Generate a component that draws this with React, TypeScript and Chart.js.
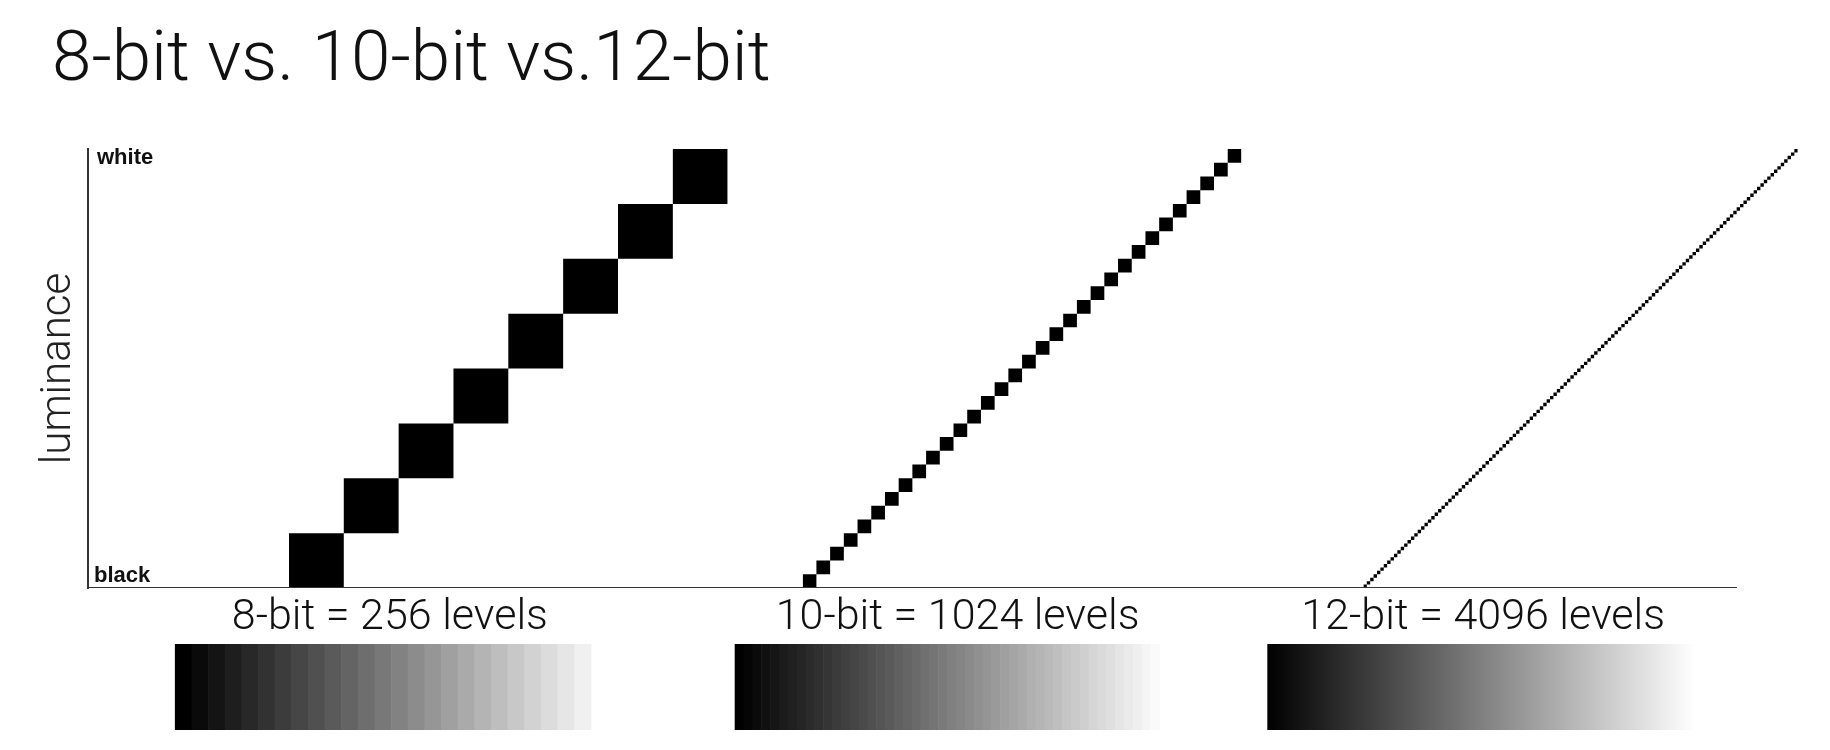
import React, { useEffect, useRef } from 'react';
import { Chart, registerables } from 'chart.js';

Chart.register(...registerables);

// ---- data ----
const titleText = '8-bit vs. 10-bit vs.12-bit';
const axisTitle = 'luminance';
const groupLabels = ['8-bit = 256 levels', '10-bit = 1024 levels', '12-bit = 4096 levels'];
const levelCounts = [256, 1024, 4096];
const stepsDrawn = [8, 32, 128]; // quantisation steps drawn per staircase
const stairStart = [0.458, 1.629, 2.907]; // x where each staircase begins (1 unit = full luminance span)
const stairWidth = [1.0, 1.0, 0.99];
const labelCenter = [0.688, 1.982, 3.18];
const bandFrom = [0.198, 1.474, 2.688];
const bandTo = [1.146, 2.442, 3.663];
const bandSteps = [25, 48, 0]; // 0 = continuous
const bandLastGray = [240, 250, 255];
const yEndLabels = ['black', 'white'];
const AXIS_END = 3.7585; // where the drawn x axis line stops
const X_MAX = 3.95;

const FONT = 'Roboto, "Open Sans", "Liberation Sans", sans-serif';

function staircase(g: number) {
  const n = stepsDrawn[g];
  const s = stairStart[g];
  const w = stairWidth[g] / n;
  const upper: { x: number; y: number }[] = [];
  const lower: { x: number; y: number }[] = [];
  for (let i = 0; i < n; i++) {
    upper.push({ x: s + i * w, y: (i + 1) / n });
    upper.push({ x: s + (i + 1) * w, y: (i + 1) / n });
    lower.push({ x: s + i * w, y: i / n });
    lower.push({ x: s + (i + 1) * w, y: i / n });
  }
  return { upper, lower };
}

const decorPlugin = {
  id: 'decor',
  afterDraw(chart: any) {
    const { ctx, chartArea } = chart;
    const xs = chart.scales.x;
    const top = chartArea.bottom + 56;
    const h = 86;
    ctx.save();
    for (let g = 0; g < bandFrom.length; g++) {
      const x0 = xs.getPixelForValue(bandFrom[g]);
      const x1 = xs.getPixelForValue(bandTo[g]);
      const n = bandSteps[g];
      if (n > 0) {
        const sw = (x1 - x0) / n;
        for (let i = 0; i < n; i++) {
          const v = Math.round((i * bandLastGray[g]) / (n - 1));
          ctx.fillStyle = `rgb(${v},${v},${v})`;
          ctx.fillRect(x0 + i * sw, top, sw + 0.6, h);
        }
      } else {
        const grad = ctx.createLinearGradient(x0, 0, x1, 0);
        grad.addColorStop(0, '#000');
        grad.addColorStop(1, '#fff');
        ctx.fillStyle = grad;
        ctx.fillRect(x0, top, x1 - x0, h);
      }
    }
    ctx.fillStyle = '#111';
    ctx.font = 'bold 22px "Liberation Sans", Arial, sans-serif';
    ctx.textAlign = 'left';
    ctx.textBaseline = 'alphabetic';
    ctx.fillText(yEndLabels[1], chartArea.left + 9, chartArea.top + 15);
    ctx.fillText(yEndLabels[0], chartArea.left + 6, chartArea.bottom - 6);
    ctx.restore();
  },
};

export default function App() {
  const ref = useRef<HTMLCanvasElement | null>(null);

  useEffect(() => {
    if (!ref.current) return;
    const datasets: any[] = [
      {
        label: 'axis',
        data: [
          { x: 0, y: 0 },
          { x: AXIS_END, y: 0 },
        ],
        borderColor: '#333',
        borderWidth: 2,
        pointRadius: 0,
        fill: false,
      },
    ];
    for (let g = 0; g < stepsDrawn.length; g++) {
      const { upper, lower } = staircase(g);
      datasets.push({
        label: `${groupLabels[g]} (upper)`,
        data: upper,
        borderWidth: 0,
        borderColor: 'transparent',
        pointRadius: 0,
        fill: false,
      });
      datasets.push({
        label: `${groupLabels[g]} (${levelCounts[g]})`,
        data: lower,
        borderWidth: 0,
        borderColor: 'transparent',
        pointRadius: 0,
        backgroundColor: '#000',
        fill: '-1',
      });
    }
    const chart = new Chart(ref.current, {
      type: 'line',
      data: { datasets },
      plugins: [decorPlugin],
      options: {
        animation: false,
        responsive: false,
        events: [],
        layout: { padding: { left: 34, top: 149, right: 9, bottom: 102.4 } },
        plugins: { legend: { display: false }, tooltip: { enabled: false } },
        scales: {
          x: {
            type: 'linear',
            min: 0,
            max: X_MAX,
            grid: { display: false, drawTicks: false },
            border: { display: false },
            afterBuildTicks: (s: any) => {
              s.ticks = labelCenter.map((v) => ({ value: v }));
            },
            ticks: {
              autoSkip: false,
              maxRotation: 0,
              minRotation: 0,
              padding: 4,
              color: '#111',
              font: { family: FONT, size: 43, weight: '300' },
              callback: (_v: any, i: number) => groupLabels[i],
            },
          },
          y: {
            type: 'linear',
            min: 0,
            max: 1,
            grid: { display: false, drawTicks: false },
            border: { display: true, color: '#333', width: 2 },
            ticks: { display: false },
            title: {
              display: true,
              text: axisTitle,
              color: '#222',
              font: { family: FONT, size: 42, weight: '300' },
              padding: { top: 0, bottom: 3.6 },
            },
          },
        },
      } as any,
    });
    return () => chart.destroy();
  }, []);

  return (
    <div style={{ position: 'absolute', left: 0, top: 0, width: 1830, height: 750, background: '#fff' }}>
      <div
        style={{
          position: 'absolute',
          left: 52,
          top: 21,
          font: `300 71px ${FONT}`,
          lineHeight: '70px',
          color: '#111',
          whiteSpace: 'nowrap',
        }}
      >
        {titleText}
      </div>
      <canvas ref={ref} width={1830} height={750} style={{ display: 'block', width: 1830, height: 750 }} />
    </div>
  );
}
